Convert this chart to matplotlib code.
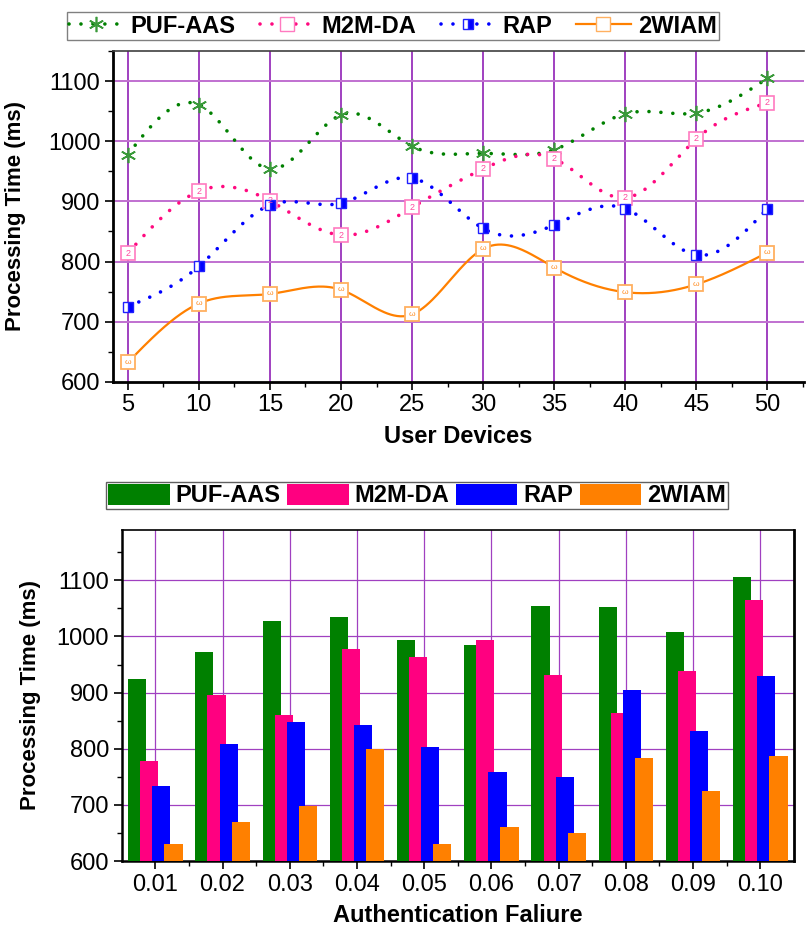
import numpy as np
import matplotlib.pyplot as plt
from matplotlib.ticker import MultipleLocator, FixedLocator
from matplotlib.lines import Line2D

plt.rcParams['font.family'] = ['Liberation Sans', 'DejaVu Sans']

# ---- data: top chart (line) ----
devices = [5, 10, 15, 20, 25, 30, 35, 40, 45, 50]
puf_line = [978, 1061, 954, 1044, 992, 980, 986, 1046, 1047, 1105]
m2m_line = [814, 917, 901, 844, 890, 954, 971, 906, 1004, 1064]
rap_line = [725, 792, 894, 897, 939, 855, 861, 888, 811, 888]
wiam_line = [632, 730, 746, 753, 712, 821, 790, 749, 762, 815]

# ---- data: bottom chart (bars) ----
failures = ["0.01", "0.02", "0.03", "0.04", "0.05", "0.06", "0.07", "0.08", "0.09", "0.10"]
puf_bar = [924, 972, 1027, 1035, 994, 985, 1054, 1052, 1008, 1105]
m2m_bar = [778, 895, 860, 977, 964, 993, 932, 864, 939, 1065]
rap_bar = [733, 809, 848, 842, 803, 758, 749, 904, 831, 929]
wiam_bar = [630, 669, 698, 799, 630, 661, 651, 783, 725, 788]

names = ["PUF-AAS", "M2M-DA", "RAP", "2WIAM"]
line_colors = ["#008000", "#ff0a80", "#0000ff", "#ff8000"]
bar_colors = ["#008000", "#ff0080", "#0000ff", "#ff8000"]


def smooth(x, y, n=400):
    # natural cubic spline through the points (Origin-style smoothed line)
    x = np.asarray(x, float)
    y = np.asarray(y, float)
    k = len(x)
    h = np.diff(x)
    A = np.zeros((k, k))
    b = np.zeros(k)
    A[0, 0] = A[-1, -1] = 1
    for i in range(1, k - 1):
        A[i, i - 1] = h[i - 1]
        A[i, i] = 2 * (h[i - 1] + h[i])
        A[i, i + 1] = h[i]
        b[i] = 6 * ((y[i + 1] - y[i]) / h[i] - (y[i] - y[i - 1]) / h[i - 1])
    M = np.linalg.solve(A, b)
    xs = np.linspace(x[0], x[-1], n)
    idx = np.clip(np.searchsorted(x, xs) - 1, 0, k - 2)
    x0, x1 = x[idx], x[idx + 1]
    hh = x1 - x0
    t0, t1 = x1 - xs, xs - x0
    ys = (M[idx] * t0 ** 3 + M[idx + 1] * t1 ** 3) / (6 * hh) \
        + (y[idx] / hh - M[idx] * hh / 6) * t0 + (y[idx + 1] / hh - M[idx + 1] * hh / 6) * t1
    return xs, ys


fig = plt.figure(figsize=(8.06, 9.31), dpi=100)

# ================= top chart =================
ax1 = fig.add_axes([0.140, 0.590, 0.858, 0.355])
dots = (0, (0.01, 3.3))
series = [puf_line, m2m_line, rap_line, wiam_line]
styles = [dots, dots, dots, '-']
widths = [2.6, 2.6, 2.6, 1.6]
for vals, c, ls, lw in zip(series, line_colors, styles, widths):
    xs, ys = smooth(devices, vals)
    ax1.plot(xs, ys, color=c, linestyle=ls, linewidth=lw,
             dash_capstyle='round', solid_capstyle='round', zorder=3)

ax1.plot(devices, puf_line, linestyle='none', marker=(6, 2, 0), markersize=11,
         markeredgecolor='#3a9a3a', markeredgewidth=1.2, zorder=4)
ax1.plot(devices, m2m_line, linestyle='none', marker='s', markersize=10,
         markerfacecolor='white', markeredgecolor='#ff7ac0', markeredgewidth=1.2, zorder=4)
ax1.plot(devices, rap_line, linestyle='none', marker='s', markersize=7.5, fillstyle='right',
         markerfacecolor='#0000ff', markerfacecoloralt='white', markeredgecolor='#2020ff',
         markeredgewidth=1.0, zorder=4)
ax1.plot(devices, wiam_line, linestyle='none', marker='s', markersize=10.5,
         markerfacecolor='white', markeredgecolor='#ffb060', markeredgewidth=1.3, zorder=4)
for xv, yv in zip(devices, m2m_line):
    ax1.text(xv, yv, "2", color='#ff4aa0', fontsize=6.5, ha='center', va='center', zorder=5)
for xv, yv in zip(devices, wiam_line):
    ax1.text(xv, yv, "ω", color='#ff8c20', fontsize=6, ha='center', va='center', zorder=5)

ax1.set_xlim(3.95, 52.6)
ax1.set_ylim(600, 1150)
ax1.xaxis.set_major_locator(FixedLocator(devices))
ax1.xaxis.set_minor_locator(MultipleLocator(2.5))
ax1.yaxis.set_major_locator(MultipleLocator(100))
ax1.yaxis.set_minor_locator(MultipleLocator(50))
ax1.tick_params(which='major', direction='out', length=6, width=1.2, labelsize=17, pad=3)
ax1.tick_params(which='minor', direction='out', length=3.5, width=1.0)
ax1.tick_params(top=False, right=False)
for xv in devices:
    ax1.axvline(xv, color='#a040c0', linewidth=1.4, zorder=1)
for yv in [700, 800, 900, 1000, 1100]:
    ax1.axhline(yv, color='#c070d0', linewidth=1.4, zorder=1)
ax1.spines['left'].set_linewidth(2.0)
ax1.spines['bottom'].set_linewidth(2.0)
ax1.spines['top'].set_linewidth(1.2)
ax1.spines['top'].set_color('#404040')
ax1.spines['right'].set_visible(False)
ax1.set_xlabel("User Devices", fontsize=17, fontweight='bold', labelpad=6)
ax1.set_ylabel("Processing Time (ms)", fontsize=16, fontweight='bold')
ax1.yaxis.set_label_coords(-0.125, 0.5)

# legend handles for top chart
lh = [
    Line2D([], [], color=line_colors[0], linestyle=dots, linewidth=2.6, dash_capstyle='round',
           marker=(6, 2, 0), markersize=11, markeredgecolor='#3a9a3a', markeredgewidth=1.2),
    Line2D([], [], color=line_colors[1], linestyle=dots, linewidth=2.6, dash_capstyle='round',
           marker='s', markersize=10, markerfacecolor='white', markeredgecolor='#ff7ac0'),
    Line2D([], [], color=line_colors[2], linestyle=dots, linewidth=2.6, dash_capstyle='round',
           marker='s', markersize=7.5, fillstyle='right', markerfacecolor='#0000ff',
           markerfacecoloralt='white', markeredgecolor='#2020ff'),
    Line2D([], [], color=line_colors[3], linewidth=1.6, marker='s', markersize=10,
           markerfacecolor='white', markeredgecolor='#ffb060'),
]
fig.legend(lh, names, loc='lower left', bbox_to_anchor=(0.083, 0.957, 0.809, 0.028),
           mode='expand', ncol=4, fancybox=False, edgecolor='#808080', framealpha=1,
           prop={'weight': 'bold', 'size': 17}, handlelength=2.3, handletextpad=0.3,
           columnspacing=0.0, borderpad=0.1, borderaxespad=0)

# ================= bottom chart =================
ax2 = fig.add_axes([0.151, 0.075, 0.834, 0.356])
pos = np.arange(len(failures))
offsets = [-0.27, -0.09, 0.09, 0.27]
bars = []
for vals, c, off in zip([puf_bar, m2m_bar, rap_bar, wiam_bar], bar_colors, offsets):
    b = ax2.bar(pos + off, np.array(vals) - 600, bottom=600, width=0.27, color=c,
                edgecolor='none', zorder=3)
    bars.append(b)

ax2.set_xlim(-0.5, len(failures) - 0.5)
ax2.set_ylim(600, 1190)
ax2.set_xticks(pos)
ax2.set_xticklabels(failures)
ax2.xaxis.set_minor_locator(FixedLocator(pos[:-1] + 0.5))
ax2.yaxis.set_major_locator(MultipleLocator(100))
ax2.yaxis.set_minor_locator(MultipleLocator(50))
ax2.tick_params(which='major', direction='out', length=6, width=1.2, labelsize=17, pad=3)
ax2.tick_params(which='minor', direction='out', length=3.5, width=1.0)
for xv in pos:
    ax2.axvline(xv, color='#a040c0', linewidth=0.9, zorder=1)
for yv in [700, 800, 900, 1000, 1100]:
    ax2.axhline(yv, color='#a040c0', linewidth=0.9, zorder=1)
ax2.spines['left'].set_linewidth(1.8)
ax2.spines['bottom'].set_linewidth(1.8)
ax2.spines['top'].set_linewidth(1.2)
ax2.spines['right'].set_linewidth(2.0)
ax2.set_xlabel("Authentication Faliure", fontsize=17, fontweight='bold', labelpad=6)
ax2.set_ylabel("Processing Time (ms)", fontsize=16, fontweight='bold')
ax2.yaxis.set_label_coords(-0.12, 0.5)

fig.legend([b[0] for b in bars], names, loc='lower left',
           bbox_to_anchor=(0.132, 0.453, 0.771, 0.027), mode='expand', ncol=4,
           fancybox=False, edgecolor='#606060', framealpha=1,
           prop={'weight': 'bold', 'size': 17}, handlelength=2.6, handleheight=1.0,
           handletextpad=0.25, columnspacing=0.0, borderpad=0.08, borderaxespad=0)

fig.savefig("out.png", dpi=100)
